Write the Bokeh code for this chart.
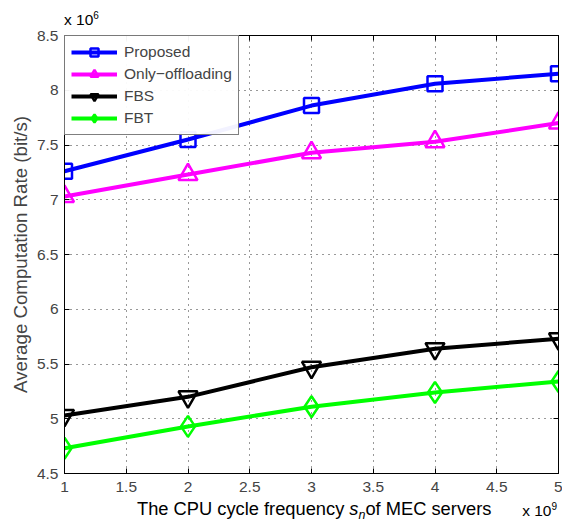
from bokeh.plotting import figure
from bokeh.models import (FixedTicker, LinearAxis, Legend, LegendItem, Range1d, Div)
from bokeh.layouts import column
from bokeh.embed import file_html
from bokeh.resources import INLINE

x = [1, 2, 3, 4, 5]
proposed = [7.26, 7.55, 7.86, 8.06, 8.15]
only_off = [7.03, 7.23, 7.43, 7.53, 7.70]
fbs = [5.03, 5.20, 5.47, 5.64, 5.73]
fbt = [4.73, 4.93, 5.11, 5.24, 5.34]

x_ticks = [1, 1.5, 2, 2.5, 3, 3.5, 4, 4.5, 5]
x_tick_labels = ["1", "1.5", "2", "2.5", "3", "3.5", "4", "4.5", "5"]
y_ticks = [4.5, 5, 5.5, 6, 6.5, 7, 7.5, 8, 8.5]
y_tick_labels = ["4.5", "5", "5.5", "6", "6.5", "7", "7.5", "8", "8.5"]

FONT = "Liberation Sans"
W = 562

p = figure(width=W, height=474, output_backend="svg", toolbar_location=None,
           x_range=Range1d(1, 5), y_range=Range1d(4.5, 8.5),
           min_border_left=64, min_border_right=4, min_border_top=10, min_border_bottom=26)
p.title.visible = False
p.outline_line_color = "black"
p.outline_line_width = 1

for ax in (p.xaxis[0], p.yaxis[0]):
    ax.major_tick_in = 5
    ax.major_tick_out = 0
    ax.minor_tick_line_color = None
    ax.major_label_text_font = FONT
    ax.major_label_text_font_size = "15.5px"
    ax.axis_line_color = "black"

p.xaxis.ticker = FixedTicker(ticks=x_ticks)
p.xaxis.major_label_overrides = dict(zip(x_ticks, x_tick_labels))
p.yaxis.ticker = FixedTicker(ticks=y_ticks)
p.yaxis.major_label_overrides = dict(zip(y_ticks, y_tick_labels))
p.yaxis.axis_label = "Average Computation Rate (bit/s)"
p.yaxis.axis_label_text_font = FONT
p.yaxis.axis_label_text_font_style = "normal"
p.yaxis.axis_label_text_font_size = "18.7px"
p.yaxis.axis_label_standoff = 3
p.xaxis.major_label_standoff = 8
p.yaxis.major_label_standoff = 6

top = LinearAxis(ticker=FixedTicker(ticks=x_ticks), major_tick_in=5, major_tick_out=0,
                 minor_tick_line_color=None, major_label_text_font_size="0px",
                 major_label_text_color=None, major_label_standoff=0)
right = LinearAxis(ticker=FixedTicker(ticks=y_ticks), major_tick_in=5, major_tick_out=0,
                   minor_tick_line_color=None, major_label_text_font_size="0px",
                   major_label_text_color=None, major_label_standoff=0)
p.add_layout(top, "above")
p.add_layout(right, "right")

p.xgrid.ticker = FixedTicker(ticks=x_ticks)
p.ygrid.ticker = FixedTicker(ticks=y_ticks)
for g in (p.xgrid[0], p.ygrid[0]):
    g.grid_line_color = "black"
    g.grid_line_dash = "1 5"
    g.grid_line_width = 1
    g.grid_line_alpha = 0.8

lw = 4
items = []
specs = [
    ("Proposed", proposed, "#0000ff", "square", 15),
    ("Only\u2212offloading", only_off, "#ff00ff", "triangle", 19),
    ("FBS", fbs, "#000000", "inverted_triangle", 19),
    ("FBT", fbt, "#00ff00", "diamond", 21),
]
for name, ys, col, mk, sz in specs:
    r1 = p.line(x, ys, line_color=col, line_width=lw)
    r2 = p.scatter(x, ys, marker=mk, size=sz, line_color=col, line_width=2.5,
                   fill_color=None)
    items.append(LegendItem(label=name, renderers=[r1, r2]))

legend = Legend(items=items, location="top_left", label_text_font=FONT,
                label_text_font_size="15.5px", border_line_color="black",
                border_line_width=1, glyph_width=46, glyph_height=20,
                spacing=2, padding=6, margin=0, label_standoff=7,
                label_height=20)
p.add_layout(legend, "center")

base = "font-family:'Liberation Sans',sans-serif;color:#000;white-space:nowrap;position:absolute;"
top_div = Div(width=W, height=25, margin=0, styles={"overflow": "visible"}, text=(
    '<div style="position:relative;width:%dpx;height:25px;">' % W +
    '<span style="' + base + 'left:64px;top:14px;font-size:15.5px;line-height:11px;">'
    'x 10<sup style="font-size:10px;line-height:0;vertical-align:6px;">6</sup></span></div>'))

bottom_div = Div(width=W, height=17, margin=0, styles={"overflow": "visible"}, text=(
    '<div style="position:relative;width:%dpx;height:17px;">' % W +
    '<span style="' + base + 'left:137px;top:2px;font-size:18.3px;line-height:15px;">'
    'The CPU cycle frequency <i>s</i><sub style="font-size:12.5px;line-height:0;'
    'vertical-align:-4px;font-style:italic;">n</sub>of MEC servers</span>'
    '<span style="' + base + 'right:5px;top:6px;font-size:15.5px;line-height:11px;">'
    'x 10<sup style="font-size:10px;line-height:0;vertical-align:6px;">9</sup></span></div>'))

layout = column(top_div, p, bottom_div, spacing=0)
open("out.html", "w").write(file_html(layout, INLINE))
